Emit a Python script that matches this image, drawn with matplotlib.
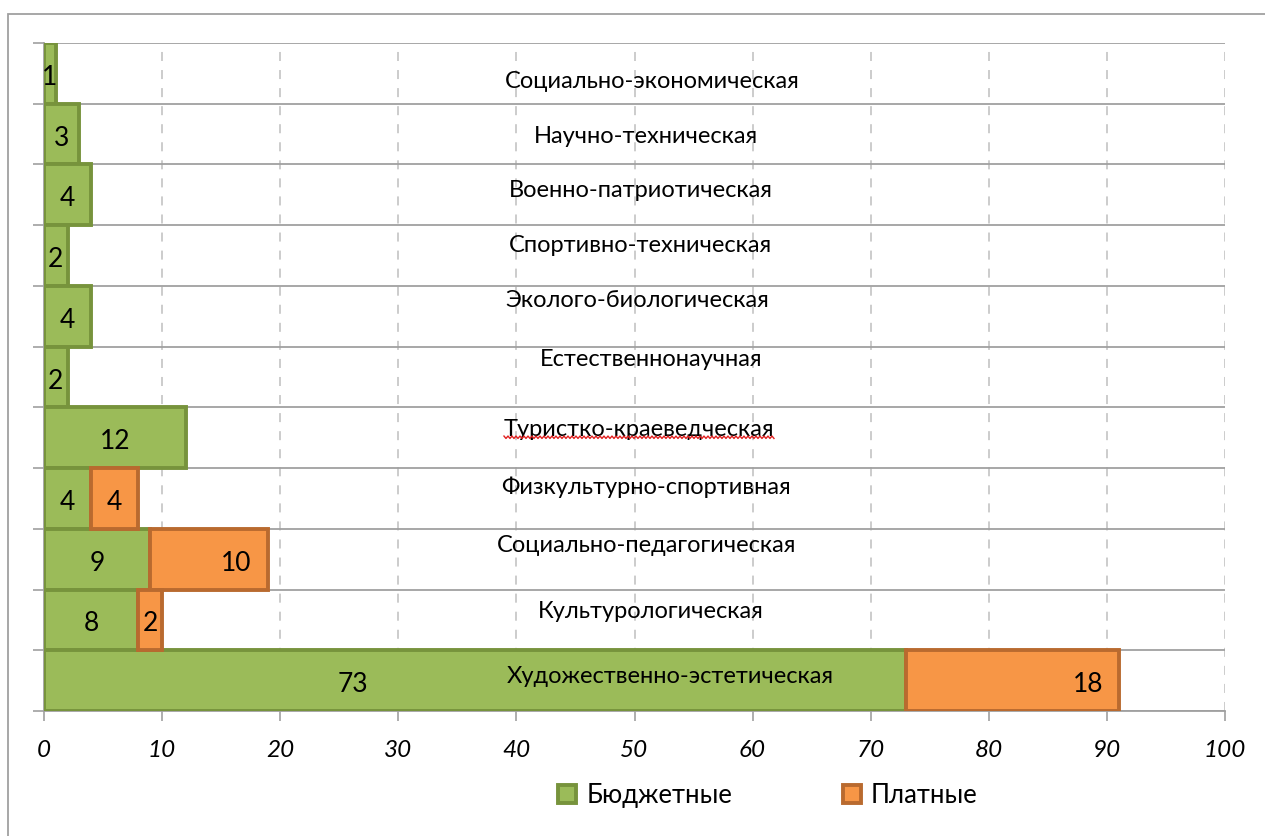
import numpy as np
import matplotlib
matplotlib.use('Agg')
import matplotlib.pyplot as plt
from matplotlib.patches import Rectangle, Patch
from matplotlib.lines import Line2D
from matplotlib.transforms import IdentityTransform

plt.rcParams['font.family'] = ['Lato', 'DejaVu Sans']

# rows from top to bottom as in the picture
categories = ['Социально-экономическая', 'Научно-техническая', 'Военно-патриотическая',
              'Спортивно-техническая', 'Эколого-биологическая', 'Естественнонаучная',
              'Туристко-краеведческая', 'Физкультурно-спортивная', 'Социально-педагогическая',
              'Культурологическая', 'Художественно-эстетическая']
budget = [1, 3, 4, 2, 4, 2, 12, 4, 9, 8, 73]
paid = [0, 0, 0, 0, 0, 0, 0, 4, 10, 2, 18]
series_names = ['Бюджетные', 'Платные']

GREEN, GREEN_EDGE = '#9BBB59', '#77933C'
ORANGE, ORANGE_EDGE = '#F79646', '#B96A2F'

# labels moved by hand in the original
label_x = {(0, 10): 26.2, (1, 10): 88.4, (1, 8): 16.3}
# text boxes with category names (x in data units, y shift in row units, + = up)
name_x = [51.5, 51.0, 50.5, 50.5, 50.2, 51.4, 50.4, 51.0, 51.0, 51.4, 53.0]
name_dy = [-0.12, -0.03, 0.08, 0.18, 0.28, 0.30, 0.16, 0.20, 0.25, 0.16, 0.08]

W, H = 1265, 837
fig = plt.figure(figsize=(W / 100, H / 100), dpi=100)
ax = fig.add_axes([44 / W, 1 - 712 / H, (1225 - 44) / W, (712 - 44) / H])

# outer chart frame (cut off at right and bottom)
fig.patches.append(Rectangle((8 / W, -0.1), 1.2, 1 - 15 / H + 0.1, transform=fig.transFigure,
                             fill=False, edgecolor='#a0a0a0', linewidth=1.3))

y = np.arange(len(categories))
ax.barh(y, budget, height=1.0, color=GREEN, edgecolor=GREEN_EDGE, linewidth=2.8, zorder=3)
paid_y = [yy for yy, p in zip(y, paid) if p > 0]
paid_v = [p for p in paid if p > 0]
paid_l = [b for b, p in zip(budget, paid) if p > 0]
ax.barh(paid_y, paid_v, left=paid_l, height=1.0, color=ORANGE, edgecolor=ORANGE_EDGE,
        linewidth=2.8, zorder=3)

# value labels
for i in range(len(categories)):
    for s, vals in enumerate([budget, paid]):
        v = vals[i]
        if v <= 0:
            continue
        left_v = 0 if s == 0 else budget[i]
        x = label_x.get((s, i), left_v + v / 2)
        ax.text(x, i + 0.05, str(v), ha='center', va='center', fontsize=19, zorder=5)

# category names inside the plot
name_texts = []
for i, name in enumerate(categories):
    t = ax.text(name_x[i], i - name_dy[i], name, ha='center', va='center', fontsize=17,
                zorder=6)
    name_texts.append(t)

ax.set_xlim(0, 100)
ax.set_ylim(len(categories) - 0.5, -0.5)
ax.set_xticks(np.arange(0, 101, 10))
ax.set_yticks(np.arange(-0.5, len(categories), 1.0))
ax.set_yticklabels([])
ax.tick_params(axis='x', length=7, width=1.2, color='#a0a0a0', pad=13, labelsize=17.5)
ax.tick_params(axis='y', length=8, width=1.2, color='#a0a0a0')
for lab in ax.get_xticklabels():
    lab.set_fontstyle('italic')

ax.grid(axis='y', color='#a0a0a0', linewidth=1.3, zorder=0)
ax.grid(axis='x', color='#c8c8c8', linestyle=(0, (5, 5)), linewidth=1.3, zorder=0)
ax.set_axisbelow(True)
for side in ['top', 'right']:
    ax.spines[side].set_visible(False)
for side in ['left', 'bottom']:
    ax.spines[side].set_color('#a0a0a0')
    ax.spines[side].set_linewidth(1.3)

handles = [Patch(facecolor=GREEN, edgecolor=GREEN_EDGE, linewidth=2.8),
           Patch(facecolor=ORANGE, edgecolor=ORANGE_EDGE, linewidth=2.8)]
fig.legend(handles, series_names, loc='center', bbox_to_anchor=(768 / W, 1 - 796 / H),
           ncol=2, frameon=False, fontsize=18.5, handlelength=0.7, handleheight=0.7,
           handletextpad=0.4, columnspacing=4.3)

# spell-check squiggle under the misspelled name
fig.canvas.draw()
renderer = fig.canvas.get_renderer()
bb = name_texts[6].get_window_extent(renderer)
xs = np.arange(bb.x0, bb.x1, 2.0)
ys = bb.y0 + 0.06 * bb.height + np.where(np.arange(len(xs)) % 2 == 0, 1.2, -1.2)
fig.add_artist(Line2D(xs, ys, transform=IdentityTransform(), color='#e02020', linewidth=1.0,
                      zorder=7))

fig.savefig('out.png', dpi=100)
